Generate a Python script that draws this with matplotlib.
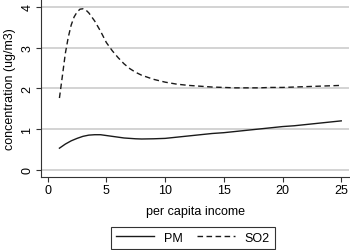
import matplotlib
matplotlib.use("Agg")
import matplotlib.pyplot as plt

plt.rcParams['font.family'] = ['Liberation Sans', 'DejaVu Sans']

so2_x = [1.0, 1.25, 1.5, 1.75, 2.0, 2.25, 2.5, 2.75, 3.0, 3.25, 3.5, 4.0, 4.5, 5.0, 5.5,
         6.0, 6.5, 7.0, 7.5, 8.0, 9.0, 10, 11, 12, 13, 14, 15, 16, 17, 18, 19, 20,
         21, 22, 23, 24, 25]
so2_y = [1.76, 2.3, 2.85, 3.25, 3.55, 3.75, 3.87, 3.94, 3.95, 3.92, 3.85, 3.65, 3.4, 3.12, 2.92,
         2.75, 2.6, 2.48, 2.39, 2.32, 2.22, 2.15, 2.1, 2.07, 2.05, 2.03, 2.02, 2.01, 2.01, 2.01, 2.02, 2.02,
         2.03, 2.04, 2.05, 2.06, 2.07]

pm_x = [1.0, 1.5, 2.0, 2.5, 3.0, 3.5, 4.0, 4.5, 5.0, 5.5, 6.0, 6.5, 7.0, 7.5, 8.0, 9.0, 10,
        11, 12, 13, 14, 15, 16, 17, 18, 19, 20, 21, 22, 23, 24, 25]
pm_y = [0.53, 0.63, 0.71, 0.77, 0.82, 0.85, 0.86, 0.86, 0.84, 0.82, 0.80, 0.78, 0.77, 0.76, 0.755, 0.76, 0.77,
        0.80, 0.83, 0.86, 0.89, 0.91, 0.94, 0.97, 1.00, 1.03, 1.06, 1.08, 1.11, 1.14, 1.17, 1.20]

x_ticks = [0, 5, 10, 15, 20, 25]
y_ticks = [0, 1, 2, 3, 4]

fig = plt.figure(figsize=(3.5, 2.51), dpi=100)
ax = fig.add_axes([41/350, (251-177.7)/251, 308/350, 177.7/251])

for y in y_ticks:
    ax.axhline(y, color='#c8c8c8', lw=1.1, zorder=0)

l1, = ax.plot(pm_x, pm_y, color='#1a1a1a', lw=1.0, label='PM')
l2, = ax.plot(so2_x, so2_y, color='#1a1a1a', lw=1.0, dashes=(4, 2.5), label='SO2')

ax.set_xlim(-0.57, 25.66)
ax.set_ylim(-0.17, 4.19)
ax.set_xticks(x_ticks)
ax.set_yticks(y_ticks)
ax.tick_params(axis='both', labelsize=9, length=3.5, width=0.8, color='#333333', pad=2)
for lab in ax.get_yticklabels():
    lab.set_rotation(90)
    lab.set_va('center')
for s in ['top', 'right']:
    ax.spines[s].set_visible(False)
for s in ['left', 'bottom']:
    ax.spines[s].set_color('#333333')
    ax.spines[s].set_linewidth(0.8)

ax.set_xlabel('per capita income', fontsize=9, labelpad=6)
ax.set_ylabel('concentration (ug/m3)', fontsize=9, labelpad=4)

leg = fig.legend(handles=[l1, l2], loc='center', bbox_to_anchor=(193/350, 1-238.5/251),
                 ncol=2, fontsize=9, frameon=True, fancybox=False, edgecolor='black',
                 handlelength=3.0, columnspacing=1.2, handletextpad=0.8, borderpad=0.4)
leg.get_frame().set_linewidth(0.8)

fig.savefig('out.png', dpi=100)
